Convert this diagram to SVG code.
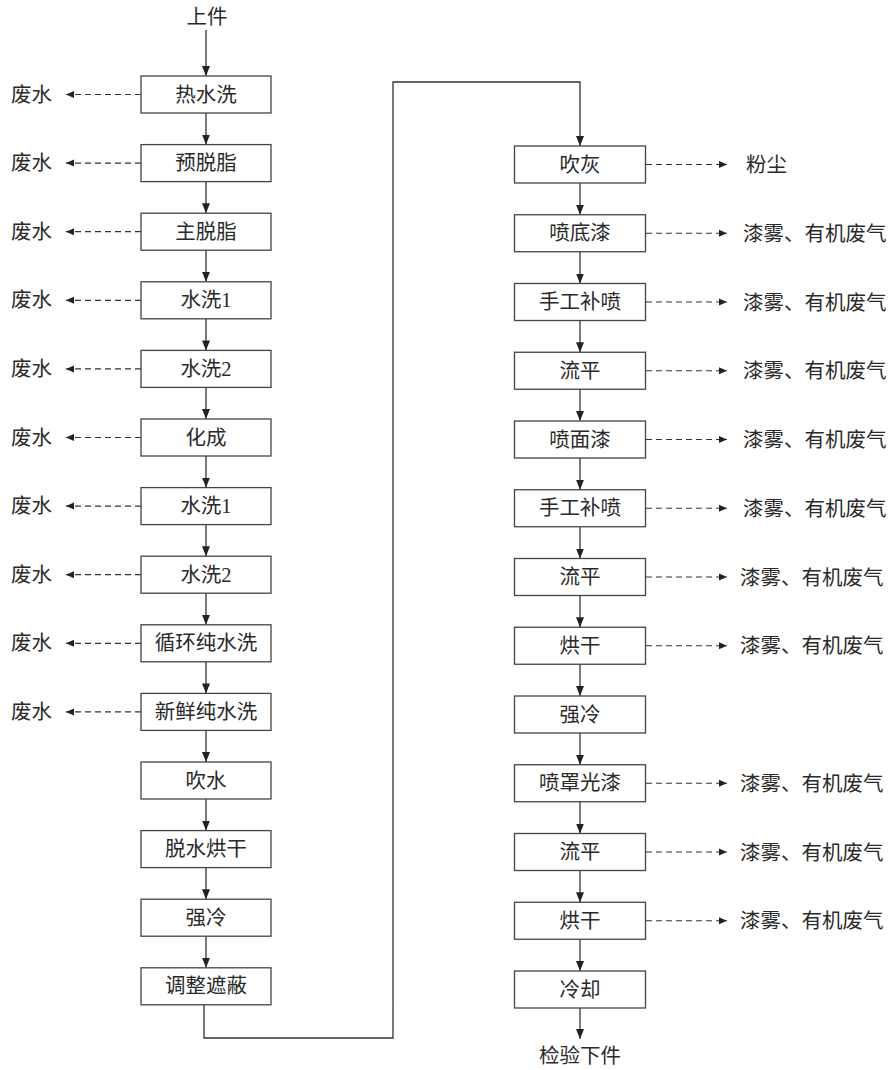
<svg xmlns="http://www.w3.org/2000/svg" width="893" height="1070" viewBox="0 0 893 1070">
<defs>
<marker id="ah" markerWidth="10" markerHeight="10" refX="10" refY="5" orient="auto" markerUnits="userSpaceOnUse"><path d="M0,1 L10,5 L0,9 z" fill="#222"/></marker>
<marker id="ahs" markerWidth="8" markerHeight="8" refX="8" refY="4" orient="auto" markerUnits="userSpaceOnUse"><path d="M0,0.5 L8,4 L0,7.5 z" fill="#222"/></marker>
<style>
.b{fill:#fff;stroke:#444;stroke-width:1.3}
.t{font-family:"Liberation Serif","Noto Sans CJK SC",serif;font-size:20.5px;fill:#2a2a2a;text-anchor:middle}
.s{font-family:"Liberation Serif","Noto Sans CJK SC",serif;font-size:20.5px;fill:#2a2a2a}
.c{fill:none;stroke:#333;stroke-width:1.3}
.d{fill:none;stroke:#333;stroke-width:1.2;stroke-dasharray:6,4}
</style>
</defs>
<rect width="893" height="1070" fill="#fff"/>
<g id="connectors">
<path class="c" d="M206,30 V76" marker-end="url(#ah)"/>
<path class="c" d="M206,113 V144.6" marker-end="url(#ah)"/>
<path class="c" d="M206,181.6 V213.2" marker-end="url(#ah)"/>
<path class="c" d="M206,250.2 V281.8" marker-end="url(#ah)"/>
<path class="c" d="M206,318.8 V350.4" marker-end="url(#ah)"/>
<path class="c" d="M206,387.4 V419" marker-end="url(#ah)"/>
<path class="c" d="M206,456 V487.6" marker-end="url(#ah)"/>
<path class="c" d="M206,524.6 V556.2" marker-end="url(#ah)"/>
<path class="c" d="M206,593.2 V624.8" marker-end="url(#ah)"/>
<path class="c" d="M206,661.8 V693.4" marker-end="url(#ah)"/>
<path class="c" d="M206,730.4 V762" marker-end="url(#ah)"/>
<path class="c" d="M206,799 V830.6" marker-end="url(#ah)"/>
<path class="c" d="M206,867.6 V899.2" marker-end="url(#ah)"/>
<path class="c" d="M206,936.2 V967.8" marker-end="url(#ah)"/>
<path class="c" d="M204,1004.8 V1038 H393 V82 H580 V146" marker-end="url(#ah)"/>
<path class="c" d="M580,183 V214.75" marker-end="url(#ah)"/>
<path class="c" d="M580,251.75 V283.5" marker-end="url(#ah)"/>
<path class="c" d="M580,320.5 V352.25" marker-end="url(#ah)"/>
<path class="c" d="M580,389.25 V421" marker-end="url(#ah)"/>
<path class="c" d="M580,458 V489.75" marker-end="url(#ah)"/>
<path class="c" d="M580,526.75 V558.5" marker-end="url(#ah)"/>
<path class="c" d="M580,595.5 V627.25" marker-end="url(#ah)"/>
<path class="c" d="M580,664.25 V696" marker-end="url(#ah)"/>
<path class="c" d="M580,733 V764.75" marker-end="url(#ah)"/>
<path class="c" d="M580,801.75 V833.5" marker-end="url(#ah)"/>
<path class="c" d="M580,870.5 V902.25" marker-end="url(#ah)"/>
<path class="c" d="M580,939.25 V971" marker-end="url(#ah)"/>
<path class="c" d="M580,1008 V1039" marker-end="url(#ah)"/>
<path class="d" d="M141,94.5 H66" marker-end="url(#ahs)"/>
<path class="d" d="M141,163.1 H66" marker-end="url(#ahs)"/>
<path class="d" d="M141,231.7 H66" marker-end="url(#ahs)"/>
<path class="d" d="M141,300.3 H66" marker-end="url(#ahs)"/>
<path class="d" d="M141,368.9 H66" marker-end="url(#ahs)"/>
<path class="d" d="M141,437.5 H66" marker-end="url(#ahs)"/>
<path class="d" d="M141,506.1 H66" marker-end="url(#ahs)"/>
<path class="d" d="M141,574.7 H66" marker-end="url(#ahs)"/>
<path class="d" d="M141,643.3 H66" marker-end="url(#ahs)"/>
<path class="d" d="M141,711.9 H66" marker-end="url(#ahs)"/>
<path class="d" d="M646,164.5 H727" marker-end="url(#ahs)"/>
<path class="d" d="M646,233.25 H727" marker-end="url(#ahs)"/>
<path class="d" d="M646,302 H727" marker-end="url(#ahs)"/>
<path class="d" d="M646,370.75 H727" marker-end="url(#ahs)"/>
<path class="d" d="M646,439.5 H727" marker-end="url(#ahs)"/>
<path class="d" d="M646,508.25 H727" marker-end="url(#ahs)"/>
<path class="d" d="M646,577 H727" marker-end="url(#ahs)"/>
<path class="d" d="M646,645.75 H727" marker-end="url(#ahs)"/>
<path class="d" d="M646,783.25 H727" marker-end="url(#ahs)"/>
<path class="d" d="M646,852 H727" marker-end="url(#ahs)"/>
<path class="d" d="M646,920.75 H727" marker-end="url(#ahs)"/>
</g>
<g id="start"><text class="t" x="207" y="24">上件</text></g>
<g id="L1"><rect class="b" x="141" y="76" width="130" height="37"/><text class="t" x="206" y="101.5">热水洗</text></g>
<g id="L2"><rect class="b" x="141" y="144.6" width="130" height="37"/><text class="t" x="206" y="170.1">预脱脂</text></g>
<g id="L3"><rect class="b" x="141" y="213.2" width="130" height="37"/><text class="t" x="206" y="238.7">主脱脂</text></g>
<g id="L4"><rect class="b" x="141" y="281.8" width="130" height="37"/><text class="t" x="206" y="307.3">水洗1</text></g>
<g id="L5"><rect class="b" x="141" y="350.4" width="130" height="37"/><text class="t" x="206" y="375.9">水洗2</text></g>
<g id="L6"><rect class="b" x="141" y="419" width="130" height="37"/><text class="t" x="206" y="444.5">化成</text></g>
<g id="L7"><rect class="b" x="141" y="487.6" width="130" height="37"/><text class="t" x="206" y="513.1">水洗1</text></g>
<g id="L8"><rect class="b" x="141" y="556.2" width="130" height="37"/><text class="t" x="206" y="581.7">水洗2</text></g>
<g id="L9"><rect class="b" x="141" y="624.8" width="130" height="37"/><text class="t" x="206" y="650.3">循环纯水洗</text></g>
<g id="L10"><rect class="b" x="141" y="693.4" width="130" height="37"/><text class="t" x="206" y="718.9">新鲜纯水洗</text></g>
<g id="L11"><rect class="b" x="141" y="762" width="130" height="37"/><text class="t" x="206" y="787.5">吹水</text></g>
<g id="L12"><rect class="b" x="141" y="830.6" width="130" height="37"/><text class="t" x="206" y="856.1">脱水烘干</text></g>
<g id="L13"><rect class="b" x="141" y="899.2" width="130" height="37"/><text class="t" x="206" y="924.7">强冷</text></g>
<g id="L14"><rect class="b" x="141" y="967.8" width="130" height="37"/><text class="t" x="206" y="993.3">调整遮蔽</text></g>
<g id="W1"><text class="s" x="11" y="101.5">废水</text></g>
<g id="W2"><text class="s" x="11" y="170.1">废水</text></g>
<g id="W3"><text class="s" x="11" y="238.7">废水</text></g>
<g id="W4"><text class="s" x="11" y="307.3">废水</text></g>
<g id="W5"><text class="s" x="11" y="375.9">废水</text></g>
<g id="W6"><text class="s" x="11" y="444.5">废水</text></g>
<g id="W7"><text class="s" x="11" y="513.1">废水</text></g>
<g id="W8"><text class="s" x="11" y="581.7">废水</text></g>
<g id="W9"><text class="s" x="11" y="650.3">废水</text></g>
<g id="W10"><text class="s" x="11" y="718.9">废水</text></g>
<g id="R1"><rect class="b" x="514.5" y="146" width="131" height="37"/><text class="t" x="580" y="171.5">吹灰</text></g>
<g id="R2"><rect class="b" x="514.5" y="214.75" width="131" height="37"/><text class="t" x="580" y="240.25">喷底漆</text></g>
<g id="R3"><rect class="b" x="514.5" y="283.5" width="131" height="37"/><text class="t" x="580" y="309">手工补喷</text></g>
<g id="R4"><rect class="b" x="514.5" y="352.25" width="131" height="37"/><text class="t" x="580" y="377.75">流平</text></g>
<g id="R5"><rect class="b" x="514.5" y="421" width="131" height="37"/><text class="t" x="580" y="446.5">喷面漆</text></g>
<g id="R6"><rect class="b" x="514.5" y="489.75" width="131" height="37"/><text class="t" x="580" y="515.25">手工补喷</text></g>
<g id="R7"><rect class="b" x="514.5" y="558.5" width="131" height="37"/><text class="t" x="580" y="584">流平</text></g>
<g id="R8"><rect class="b" x="514.5" y="627.25" width="131" height="37"/><text class="t" x="580" y="652.75">烘干</text></g>
<g id="R9"><rect class="b" x="514.5" y="696" width="131" height="37"/><text class="t" x="580" y="721.5">强冷</text></g>
<g id="R10"><rect class="b" x="514.5" y="764.75" width="131" height="37"/><text class="t" x="580" y="790.25">喷罩光漆</text></g>
<g id="R11"><rect class="b" x="514.5" y="833.5" width="131" height="37"/><text class="t" x="580" y="859">流平</text></g>
<g id="R12"><rect class="b" x="514.5" y="902.25" width="131" height="37"/><text class="t" x="580" y="927.75">烘干</text></g>
<g id="R13"><rect class="b" x="514.5" y="971" width="131" height="37"/><text class="t" x="580" y="996.5">冷却</text></g>
<g id="end"><text class="t" x="580" y="1063">检验下件</text></g>
<g id="E1"><text class="s" x="746" y="172">粉尘</text></g>
<g id="E2"><text class="s" x="743" y="240.75">漆雾、有机废气</text></g>
<g id="E3"><text class="s" x="743" y="309.5">漆雾、有机废气</text></g>
<g id="E4"><text class="s" x="743" y="378.25">漆雾、有机废气</text></g>
<g id="E5"><text class="s" x="743" y="447">漆雾、有机废气</text></g>
<g id="E6"><text class="s" x="743" y="515.75">漆雾、有机废气</text></g>
<g id="E7"><text class="s" x="740" y="584.5">漆雾、有机废气</text></g>
<g id="E8"><text class="s" x="740" y="653.25">漆雾、有机废气</text></g>
<g id="E10"><text class="s" x="740" y="790.75">漆雾、有机废气</text></g>
<g id="E11"><text class="s" x="740" y="859.5">漆雾、有机废气</text></g>
<g id="E12"><text class="s" x="740" y="928.25">漆雾、有机废气</text></g>
</svg>
